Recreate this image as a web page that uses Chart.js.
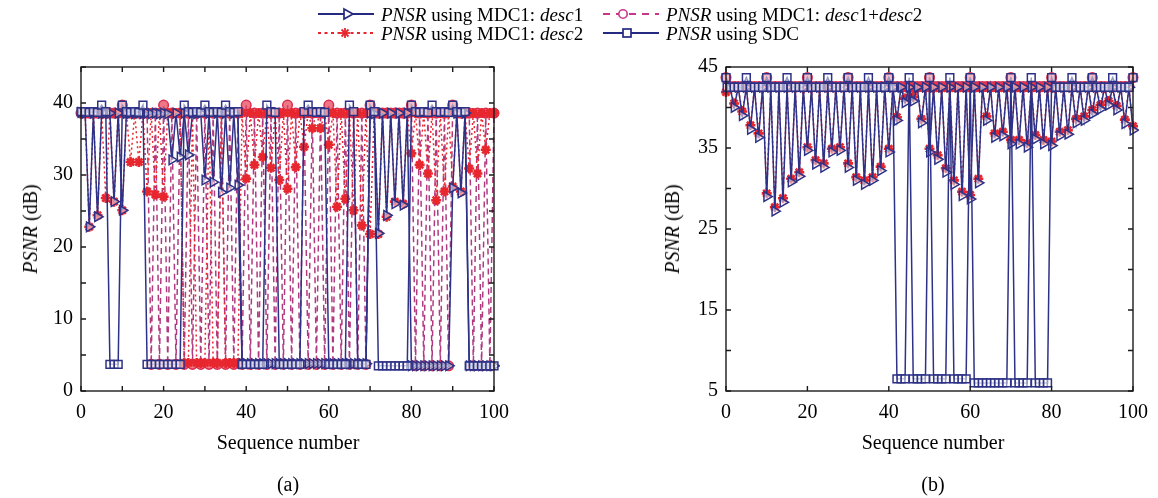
<!DOCTYPE html>
<html><head><meta charset="utf-8">
<script src="https://cdn.jsdelivr.net/npm/chart.js@4.4.1/dist/chart.umd.min.js"></script>
<style>
html,body{margin:0;padding:0;background:#fff;}
#wrap{position:relative;width:1158px;height:498px;overflow:hidden;font-family:"Liberation Serif","Times New Roman",serif;color:#000;background:#fff;}
canvas{position:absolute;top:0;}
.t{position:absolute;white-space:nowrap;font-size:20px;line-height:1;transform:translate(-50%,-50%);}
.yt{transform:translate(-50%,-50%) rotate(-90deg);}
.lg{position:absolute;display:flex;align-items:center;font-size:19px;white-space:nowrap;height:20px;line-height:1;}
.lg svg{margin-right:7px;flex:none;}
i{font-style:italic;}
</style></head><body>
<div id="wrap">
<canvas id="ca" width="560" height="498" style="left:0px"></canvas>
<canvas id="cb" width="558" height="498" style="left:600px"></canvas>

<div class="lg" style="left:318px;top:4px">
<svg width="56" height="14" viewBox="0 0 56 14"><line x1="0" y1="7" x2="56" y2="7" stroke="#25297f" stroke-width="2"/><polygon points="26,2 35,7 26,12" fill="#fff" stroke="#25297f" stroke-width="1.7"/></svg>
<span><i>PNSR</i> using MDC1: <i>desc</i>1</span></div>
<div class="lg" style="left:603px;top:4px">
<svg width="56" height="14" viewBox="0 0 56 14"><line x1="0" y1="7" x2="56" y2="7" stroke="#c8368c" stroke-width="1.8" stroke-dasharray="7,6"/><circle cx="20" cy="7" r="4.2" fill="#fff" stroke="#c8368c" stroke-width="1.6"/></svg>
<span><i>PNSR</i> using MDC1: <i>desc</i>1+<i>desc</i>2</span></div>
<div class="lg" style="left:318px;top:23px">
<svg width="56" height="14" viewBox="0 0 56 14"><line x1="0" y1="7" x2="56" y2="7" stroke="#e8262e" stroke-width="1.8" stroke-dasharray="3,3.5"/><g stroke="#e8262e" stroke-width="1.8"><line x1="22" y1="7" x2="32" y2="7"/><line x1="27" y1="2" x2="27" y2="12"/><line x1="23.5" y1="3.5" x2="30.5" y2="10.5"/><line x1="30.5" y1="3.5" x2="23.5" y2="10.5"/></g></svg>
<span><i>PNSR</i> using MDC1: <i>desc</i>2</span></div>
<div class="lg" style="left:603px;top:23px">
<svg width="56" height="14" viewBox="0 0 56 14"><line x1="0" y1="7" x2="56" y2="7" stroke="#25297f" stroke-width="2"/><rect x="20" y="3" width="8" height="8" fill="#fff" stroke="#25297f" stroke-width="1.7"/></svg>
<span><i>PNSR</i> using SDC</span></div>

<div class="t yt" style="left:30px;top:229px"><i>PSNR</i> (dB)</div>
<div class="t yt" style="left:672px;top:229px"><i>PSNR</i> (dB)</div>
<div class="t" style="left:288px;top:442px">Sequence number</div>
<div class="t" style="left:933px;top:442px">Sequence number</div>
<div class="t" style="left:288px;top:484px">(a)</div>
<div class="t" style="left:933px;top:484px">(b)</div>
</div>
<script>
// Sequence numbers (frames)
const seq = [0,1,2,3,4,5,6,7,8,9,10,11,12,13,14,15,16,17,18,19,20,21,22,23,24,25,26,27,28,29,30,31,32,33,34,35,36,37,38,39,40,41,42,43,44,45,46,47,48,49,50,51,52,53,54,55,56,57,58,59,60,61,62,63,64,65,66,67,68,69,70,71,72,73,74,75,76,77,78,79,80,81,82,83,84,85,86,87,88,89,90,91,92,93,94,95,96,97,98,99,100];

// Panel (a)
const sdcA = [
38.8,38.8,38.7,38.8,38.7,39.7,38.8,3.7,3.7,3.7,
39.7,38.8,38.7,38.8,38.7,39.7,3.7,3.7,3.7,3.7,
3.7,3.7,3.7,3.7,3.7,39.7,38.8,38.7,38.8,38.7,
39.7,38.8,38.7,38.8,38.7,39.7,38.8,38.7,38.8,3.7,
3.7,3.7,3.7,3.7,3.7,39.7,38.8,38.7,3.7,3.7,
3.7,3.7,3.7,3.7,38.8,39.7,38.8,38.7,38.8,38.7,
3.7,3.7,3.7,3.7,3.7,39.7,38.8,3.7,3.7,3.7,
39.7,38.8,3.5,3.5,3.5,3.5,3.5,3.5,3.5,3.5,
39.7,38.8,38.7,38.8,38.7,39.7,38.8,38.7,38.8,38.7,
39.7,38.8,38.7,38.8,3.5,3.5,3.5,3.5,3.5,3.5,
3.5];
const desc1A = [
38.7,38.6,22.8,38.6,24.2,38.6,38.6,38.6,26.3,38.6,
25.1,38.6,38.6,38.5,38.6,38.5,38.6,38.5,38.6,38.5,
38.6,38.5,32.1,38.6,32.5,38.6,32.8,38.6,38.5,38.6,
29.3,38.6,29.0,38.6,27.6,38.6,28.2,38.6,28.6,3.8,
3.8,3.8,3.8,3.8,3.8,3.8,3.8,3.8,3.8,3.8,
3.8,3.8,3.8,3.8,3.8,3.8,3.8,3.8,3.8,3.8,
3.8,3.8,3.8,3.8,3.8,3.8,3.8,3.8,3.8,3.8,
38.6,38.5,21.9,38.6,24.4,38.6,26.0,38.6,25.8,38.6,
3.5,3.5,3.5,3.5,3.5,3.5,3.5,3.5,3.5,3.5,
28.2,38.6,27.5,38.6,3.5,3.5,3.5,3.5,3.5,3.5,
3.5];
const desc2A = [
38.6,38.6,22.8,38.6,24.4,38.6,26.8,38.6,26.3,38.6,
25.1,38.6,31.8,38.6,31.8,38.6,27.7,38.6,27.3,38.6,
27.0,38.6,38.6,38.6,38.6,3.9,3.9,38.6,3.9,3.9,
3.9,38.6,3.9,3.9,38.6,3.9,3.9,3.9,3.9,38.6,
29.5,38.6,31.4,38.6,32.5,38.6,31.0,38.6,29.3,38.6,
28.1,38.6,31.1,38.6,33.9,38.6,36.5,38.6,36.5,38.6,
34.2,38.6,25.6,38.6,26.7,38.6,25.1,38.6,23.0,38.6,
21.8,38.6,21.8,38.6,24.2,38.6,26.3,38.6,26.0,38.6,
33.0,38.6,31.4,38.6,30.2,38.6,26.5,38.6,27.7,38.6,
28.4,38.6,27.7,38.6,30.9,38.6,30.2,38.6,33.5,38.6,
38.6];
const bothA = [
38.6,38.6,38.6,38.6,38.6,38.6,38.6,38.6,38.6,38.6,
39.7,38.6,38.6,38.6,38.6,38.6,38.6,3.7,38.6,3.7,
39.7,3.7,38.6,3.7,38.6,3.7,38.6,3.7,38.6,3.7,
38.6,3.7,38.6,3.7,38.6,3.7,38.6,3.7,38.6,3.7,
39.7,3.7,38.6,3.7,38.6,3.7,38.6,3.7,38.6,3.7,
39.7,3.7,38.6,3.7,38.6,3.7,38.6,3.7,38.6,3.7,
39.7,3.7,38.6,3.7,38.6,3.7,38.6,3.7,38.6,3.7,
39.7,38.6,38.6,38.6,38.6,38.6,38.6,38.6,38.6,38.6,
39.7,3.5,38.6,3.5,38.6,3.5,38.6,3.5,38.6,3.5,
39.7,38.6,38.6,38.6,38.6,3.5,38.6,3.5,38.6,3.5,
38.6];

// Panel (b)
const sdcB = [
43.7,42.5,42.5,42.5,42.5,43.7,42.5,42.5,42.5,42.5,
43.7,42.5,42.5,42.5,42.5,43.7,42.5,42.5,42.5,42.5,
43.7,42.5,42.5,42.5,42.5,43.7,42.5,42.5,42.5,42.5,
43.7,42.5,42.5,42.5,42.5,43.7,42.5,42.5,42.5,42.5,
43.7,42.5,6.5,6.5,6.5,43.7,6.5,6.5,6.5,6.5,
43.7,6.5,6.5,6.5,6.5,43.7,6.5,6.5,6.5,6.5,
43.7,6.0,6.0,6.0,6.0,6.0,6.0,6.0,6.0,6.0,
43.7,6.0,6.0,6.0,6.0,43.7,6.0,6.0,6.0,6.0,
43.7,42.5,42.5,42.5,42.5,43.7,42.5,42.5,42.5,42.5,
43.7,42.5,42.5,42.5,42.5,43.7,42.5,42.5,42.5,42.5,
43.7];
const desc1B = [
42.5,42.5,40.0,42.5,39.0,42.5,37.3,42.5,36.3,42.5,
29.0,42.5,27.2,42.5,28.3,42.5,30.8,42.5,31.5,42.5,
34.7,42.5,33.0,42.5,32.6,42.5,34.5,42.5,34.7,42.5,
32.6,42.5,31.0,42.5,30.5,42.5,31.0,42.5,32.2,42.5,
34.5,42.5,38.4,42.5,40.6,42.5,40.8,42.5,38.1,42.5,
34.5,42.5,33.6,42.5,32.0,42.5,30.5,42.5,29.1,42.5,
28.7,42.5,30.7,42.5,38.4,42.5,36.3,42.5,36.5,42.5,
35.5,42.5,35.5,42.5,35.1,42.5,36.1,42.5,35.5,42.5,
35.3,42.5,36.5,42.5,36.7,42.5,38.1,42.5,38.4,42.5,
39.2,42.5,39.8,42.5,40.3,42.5,39.7,42.5,38.0,42.5,
37.2];
const desc2B = [
41.9,42.4,40.5,42.4,39.5,42.4,37.8,42.4,36.8,42.4,
29.4,42.4,27.7,42.4,28.8,42.4,31.2,42.4,32.0,42.4,
35.1,42.4,33.5,42.4,33.1,42.4,34.9,42.4,35.1,42.4,
33.1,42.4,31.4,42.4,31.0,42.4,31.4,42.4,32.7,42.4,
34.9,42.4,38.8,42.4,41.1,42.4,41.3,42.4,38.6,42.4,
34.9,42.4,34.1,42.4,32.5,42.4,31.0,42.4,29.6,42.4,
29.2,42.4,31.2,42.4,38.9,42.4,36.8,42.4,37.0,42.4,
36.0,42.4,36.0,42.4,35.6,42.4,36.6,42.4,36.0,42.4,
35.8,42.4,37.0,42.4,37.2,42.4,38.6,42.4,38.9,42.4,
39.7,42.4,40.3,42.4,40.8,42.4,40.2,42.4,38.5,42.4,
37.7];
const bothB = [
43.7,42.6,42.6,42.6,42.6,42.6,42.6,42.6,42.6,42.6,
43.7,42.6,42.6,42.6,42.6,42.6,42.6,42.6,42.6,42.6,
43.7,42.6,42.6,42.6,42.6,42.6,42.6,42.6,42.6,42.6,
43.7,42.6,42.6,42.6,42.6,42.6,42.6,42.6,42.6,42.6,
43.7,42.6,42.6,42.6,42.6,42.6,42.6,42.6,42.6,42.6,
43.7,42.6,42.6,42.6,42.6,42.6,42.6,42.6,42.6,42.6,
43.7,42.6,42.6,42.6,42.6,42.6,42.6,42.6,42.6,42.6,
43.7,42.6,42.6,42.6,42.6,42.6,42.6,42.6,42.6,42.6,
43.7,42.6,42.6,42.6,42.6,42.6,42.6,42.6,42.6,42.6,
43.7,42.6,42.6,42.6,42.6,42.6,42.6,42.6,42.6,42.6,
43.7];

const yTicksA = [0,10,20,30,40];
const yTicksB = [5,15,25,35,45];
const xTicks = [0,20,40,60,80,100];

const NAVY = '#2e3287', RED = '#e8262e', MAG = '#b03a80', CIRC = '#d82e50';
const FONT = {family: "'Liberation Serif','Times New Roman',serif", size: 20};

function pts(vals){ return seq.map((s,i)=>({x:s, y:vals[i]})); }

function makeSets(sdc, d1, d2, both){
  return [
    {label:'SDC', data:pts(sdc), order:0, borderColor:NAVY, borderWidth:1.5,
     pointStyle:'rect', pointRadius:5.5, pointBorderColor:NAVY, pointBorderWidth:1.5,
     pointBackgroundColor:'rgba(255,255,255,0.5)', clip:6},
    {label:'desc1', data:pts(d1), order:1, borderColor:NAVY, borderWidth:1.5,
     pointStyle:'triangle', pointRotation:90, pointRadius:5.5, pointBorderColor:NAVY, pointBorderWidth:1.5,
     pointBackgroundColor:'rgba(255,255,255,0.5)', clip:6},
    {label:'desc2', data:pts(d2), order:2, borderColor:RED, borderWidth:1.5, borderDash:[2,3],
     pointStyle:'star', pointRadius:5, pointBorderColor:RED, pointBorderWidth:2.6,
     pointBackgroundColor:RED, clip:6},
    {label:'desc1+desc2', data:pts(both), order:3, borderColor:MAG, borderWidth:1.5, borderDash:[6,4],
     pointStyle:'circle', pointRadius:4.8, pointBorderColor:CIRC, pointBorderWidth:1.5,
     pointBackgroundColor:'rgba(232,60,80,0.7)', clip:6}
  ];
}

const framePlugin = {
  id:'frame',
  afterDraw(chart, args, o){
    const {ctx, chartArea:a, scales:{x, y}} = chart;
    ctx.save();
    ctx.strokeStyle = '#1a1a1a'; ctx.lineWidth = 1.4;
    ctx.strokeRect(a.left, a.top, a.right - a.left, a.bottom - a.top);
    ctx.beginPath();
    const L = 5;
    for (let v = x.min; v <= x.max + 1e-9; v += o.xStep){
      const px = x.getPixelForValue(v);
      ctx.moveTo(px, a.bottom); ctx.lineTo(px, a.bottom - L);
      ctx.moveTo(px, a.top); ctx.lineTo(px, a.top + L);
    }
    for (let v = y.min; v <= y.max + 1e-9; v += o.yStep){
      const py = y.getPixelForValue(v);
      ctx.moveTo(a.left, py); ctx.lineTo(a.left + L, py);
      ctx.moveTo(a.right, py); ctx.lineTo(a.right - L, py);
    }
    ctx.stroke();
    ctx.restore();
  }
};

function makeChart(id, sets, cfg){
  new Chart(document.getElementById(id), {
    type:'line',
    data:{datasets:sets},
    options:{
      responsive:false, animation:false, devicePixelRatio:1,
      layout:{padding:cfg.pad},
      elements:{line:{tension:0, fill:false}},
      plugins:{legend:{display:false}, tooltip:{enabled:false}, frame:{xStep:cfg.xStep, yStep:5}},
      scales:{
        x:{type:'linear', min:0, max:100,
           grid:{display:false, drawTicks:false}, border:{display:false},
           ticks:{stepSize:cfg.xStep, autoSkip:false, maxRotation:0, padding:10, color:'#000', font:FONT,
                  callback:v => xTicks.includes(v) ? String(v) : ''},
           afterFit:s => { s.height = 40; }},
        y:{type:'linear', min:cfg.ymin, max:45,
           grid:{display:false, drawTicks:false}, border:{display:false},
           ticks:{stepSize:5, autoSkip:false, padding:8, color:'#000', font:FONT,
                  callback:v => cfg.yLabels.includes(v) ? String(v) : ''},
           afterFit:s => { s.width = cfg.yw; }}
      }
    },
    plugins:[framePlugin]
  });
}

makeChart('ca', makeSets(sdcA, desc1A, desc2A, bothA),
  {pad:{top:67, right:66, bottom:67, left:0}, yw:81, ymin:0, yLabels:yTicksA, xStep:10});
makeChart('cb', makeSets(sdcB, desc1B, desc2B, bothB),
  {pad:{top:67, right:18, bottom:67, left:0}, yw:126, ymin:5, yLabels:yTicksB, xStep:20});
</script>
</body></html>
